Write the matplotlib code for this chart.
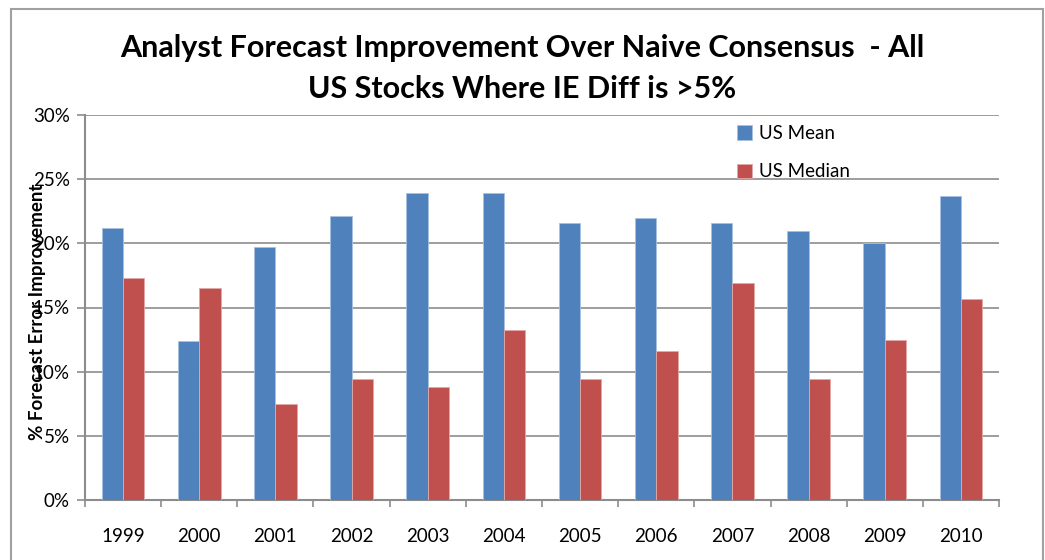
import numpy as np
import matplotlib
matplotlib.use('Agg')
import matplotlib.pyplot as plt
from matplotlib.patches import Rectangle
from matplotlib.ticker import FixedLocator, FuncFormatter

plt.rcParams['font.family'] = ['Lato', 'DejaVu Sans']

years = ['1999', '2000', '2001', '2002', '2003', '2004',
         '2005', '2006', '2007', '2008', '2009', '2010']
us_mean = [21.2, 12.4, 19.7, 22.1, 23.9, 23.9, 21.6, 21.95, 21.6, 21.0, 20.0, 23.7]
us_median = [17.3, 16.5, 7.5, 9.4, 8.8, 13.25, 9.4, 11.6, 16.9, 9.4, 12.5, 15.7]

blue = '#4F81BD'
red = '#C0504D'
grid_col = '#8C8C8C'

fig = plt.figure(figsize=(10.45, 5.6), dpi=100)
W, H = 1045, 560

# chart area border
fig.patches.append(Rectangle((11 / W, -0.05), (1043 - 11) / W, 1.05 - 9 / H,
                             transform=fig.transFigure, fill=False,
                             edgecolor='#A0A0A0', linewidth=1.5))

ax = fig.add_axes([85 / W, 1 - 500 / H, (999 - 85) / W, (500 - 115) / H])

x = np.arange(len(years))
w = 0.28
ax.bar(x - w / 2, us_mean, w, color=blue, edgecolor='#A9C1E0', linewidth=0.6,
       label='US Mean', zorder=3)
ax.bar(x + w / 2, us_median, w, color=red, edgecolor='#E3A9A8', linewidth=0.6,
       label='US Median', zorder=3)

ax.set_xlim(-0.5, len(years) - 0.5)
ax.set_ylim(0, 30)
ax.set_yticks(np.arange(0, 31, 5))
ax.yaxis.set_major_formatter(FuncFormatter(lambda v, p: f'{int(v)}%'))
ax.grid(axis='y', color=grid_col, linewidth=1.2, zorder=0)

ax.set_xticks(x)
ax.set_xticklabels(years)
ax.xaxis.set_minor_locator(FixedLocator(np.arange(-0.5, len(years), 1)))
ax.tick_params(axis='x', which='major', length=0, pad=20, labelsize=13.5)
ax.tick_params(axis='x', which='minor', length=5, width=1.2, color=grid_col,
               direction='out')
ax.tick_params(axis='y', length=6, width=1.2, color=grid_col, pad=5,
               labelsize=13.5)

for s in ['top', 'right']:
    ax.spines[s].set_visible(False)
for s in ['left', 'bottom']:
    ax.spines[s].set_color(grid_col)
    ax.spines[s].set_linewidth(1.5)

# the axis title sits over the tick labels, as in the original Excel chart
ax.set_ylabel('% Forecast Error Improvement', fontsize=13.5, fontweight='bold')
ax.yaxis.set_label_coords(-0.043, 0.49)

leg = ax.legend(loc='upper left', bbox_to_anchor=(720 / W, 1 - 108 / H),
                bbox_transform=fig.transFigure, frameon=False, fontsize=13.5,
                handlelength=0.8, handleheight=0.8, handletextpad=0.4,
                labelspacing=1.15)

fig.text(0.5, 1 - 48 / H, 'Analyst Forecast Improvement Over Naive Consensus  - All',
         ha='center', va='center', fontsize=22, fontweight='bold')
fig.text(0.5, 1 - 89 / H, 'US Stocks Where IE Diff is >5%',
         ha='center', va='center', fontsize=22, fontweight='bold')

fig.savefig('out.png', dpi=100)
